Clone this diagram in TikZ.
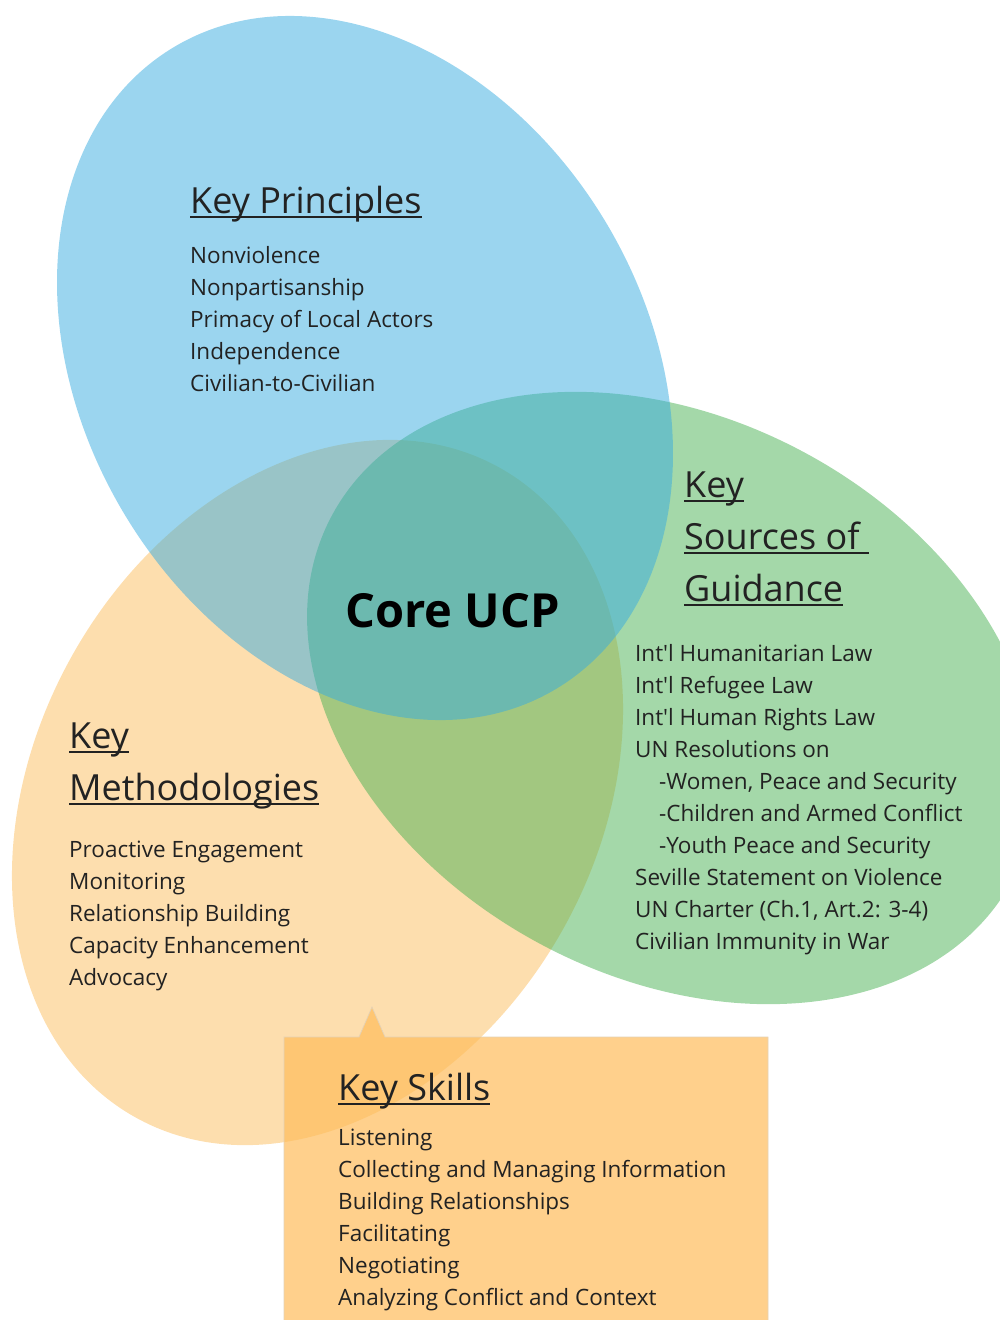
\documentclass[tikz,border=0pt]{standalone}
\usepackage{fontspec}
\setmainfont{Open Sans}
\usetikzlibrary{calc}
\definecolor{blueC}{RGB}{55,172,224}
\definecolor{greenC}{RGB}{73,177,83}
\definecolor{orangeC}{RGB}{251,189,93}
\definecolor{boxC}{RGB}{255,188,91}
\definecolor{boxLine}{RGB}{228,210,182}
\definecolor{txt}{RGB}{34,34,34}
\newcommand\hul[1]{\setbox0\hbox{#1}\rlap{\rule[-0.14em]{\wd0}{0.07em}}\box0}
\begin{document}
\begin{tikzpicture}[x=1pt,y=-1pt,
  blob/.style={fill opacity=0.5},
  body/.style={anchor=base west, inner sep=0pt, font=\fontsize{22.5}{32}\selectfont, text=txt},
  head/.style={anchor=base west, inner sep=0pt, font=\fontsize{36}{52}\selectfont, text=txt},
  core/.style={anchor=base west, inner sep=0pt, font=\bfseries\fontsize{47}{50}\selectfont, text=black}]
\useasboundingbox (0,0) rectangle (1000,1320);
\clip (0,0) rectangle (1000,1320);
% ellipses
\fill[orangeC, blob, rotate around={60.6:(317.5,792.5)}] (317.5,792.5) ellipse [x radius=372.4, y radius=281];
\fill[greenC, blob, rotate around={-28.2:(672,698)}] (672,698) ellipse [x radius=386, y radius=279];
\fill[blueC, blob, rotate around={-59.4:(365,368)}] (365,368) ellipse [x radius=373.5, y radius=281.5];
% skills callout box
\filldraw[fill=boxC, fill opacity=0.7, draw=boxLine, line width=0.7pt]
  (284,1037) -- (359,1037) -- (372,1007) -- (385,1037) -- (768,1037) -- (768,1322) -- (284,1322) -- cycle;
% Core
\node[core] (core) at (345,627) {Core UCP};
% Key Principles
\node[head] (kph) at (190,213) {\hul{Key Principles}};
\foreach \t [count=\i] in {Nonviolence, Nonpartisanship, Primacy of Local Actors, Independence, Civilian-to-Civilian}
  \node[body] (kp\i) at (190,{263+32*(\i-1)}) {\t};
% Key Sources of Guidance
\node[head] (gh1) at (684,497) {\hul{Key}};
\node[head] (gh2) at (684,549) {\hul{Sources of\ }};
\node[head] (gh3) at (684,601) {\hul{Guidance}};
\node[body] (g1) at (635,661) {Int\textquotesingle l Humanitarian Law};
\node[body] (g2) at (635,693) {Int\textquotesingle l Refugee Law};
\node[body] (g3) at (635,725) {Int\textquotesingle l Human Rights Law};
\node[body] (g4) at (635,757) {UN Resolutions on};
\node[body] (g5) at (659,789) {-Women, Peace and Security};
\node[body] (g6) at (659,821) {-Children and Armed Conflict};
\node[body] (g7) at (659,853) {-Youth Peace and Security};
\node[body] (g8) at (635,885) {Seville Statement on Violence};
\node[body] (g9) at (635,917) {UN Charter (Ch.1, Art.2: 3-4)};
\node[body] (g10) at (635,949) {Civilian Immunity in War};
% Key Methodologies
\node[head] (mh1) at (69,748) {\hul{Key}};
\node[head] (mh2) at (69,800) {\hul{Methodologies}};
\foreach \t [count=\i] in {Proactive Engagement, Monitoring, Relationship Building, Capacity Enhancement, Advocacy}
  \node[body] (m\i) at (69,{857+32*(\i-1)}) {\t};
% Key Skills
\node[head] (sh) at (338,1100) {\hul{Key Skills}};
\foreach \t [count=\i] in {Listening, Collecting and Managing Information, Building Relationships, Facilitating, Negotiating, Analyzing Conflict and Context}
  \node[body] (s\i) at (338,{1145+32*(\i-1)}) {\t};
\end{tikzpicture}
\end{document}
